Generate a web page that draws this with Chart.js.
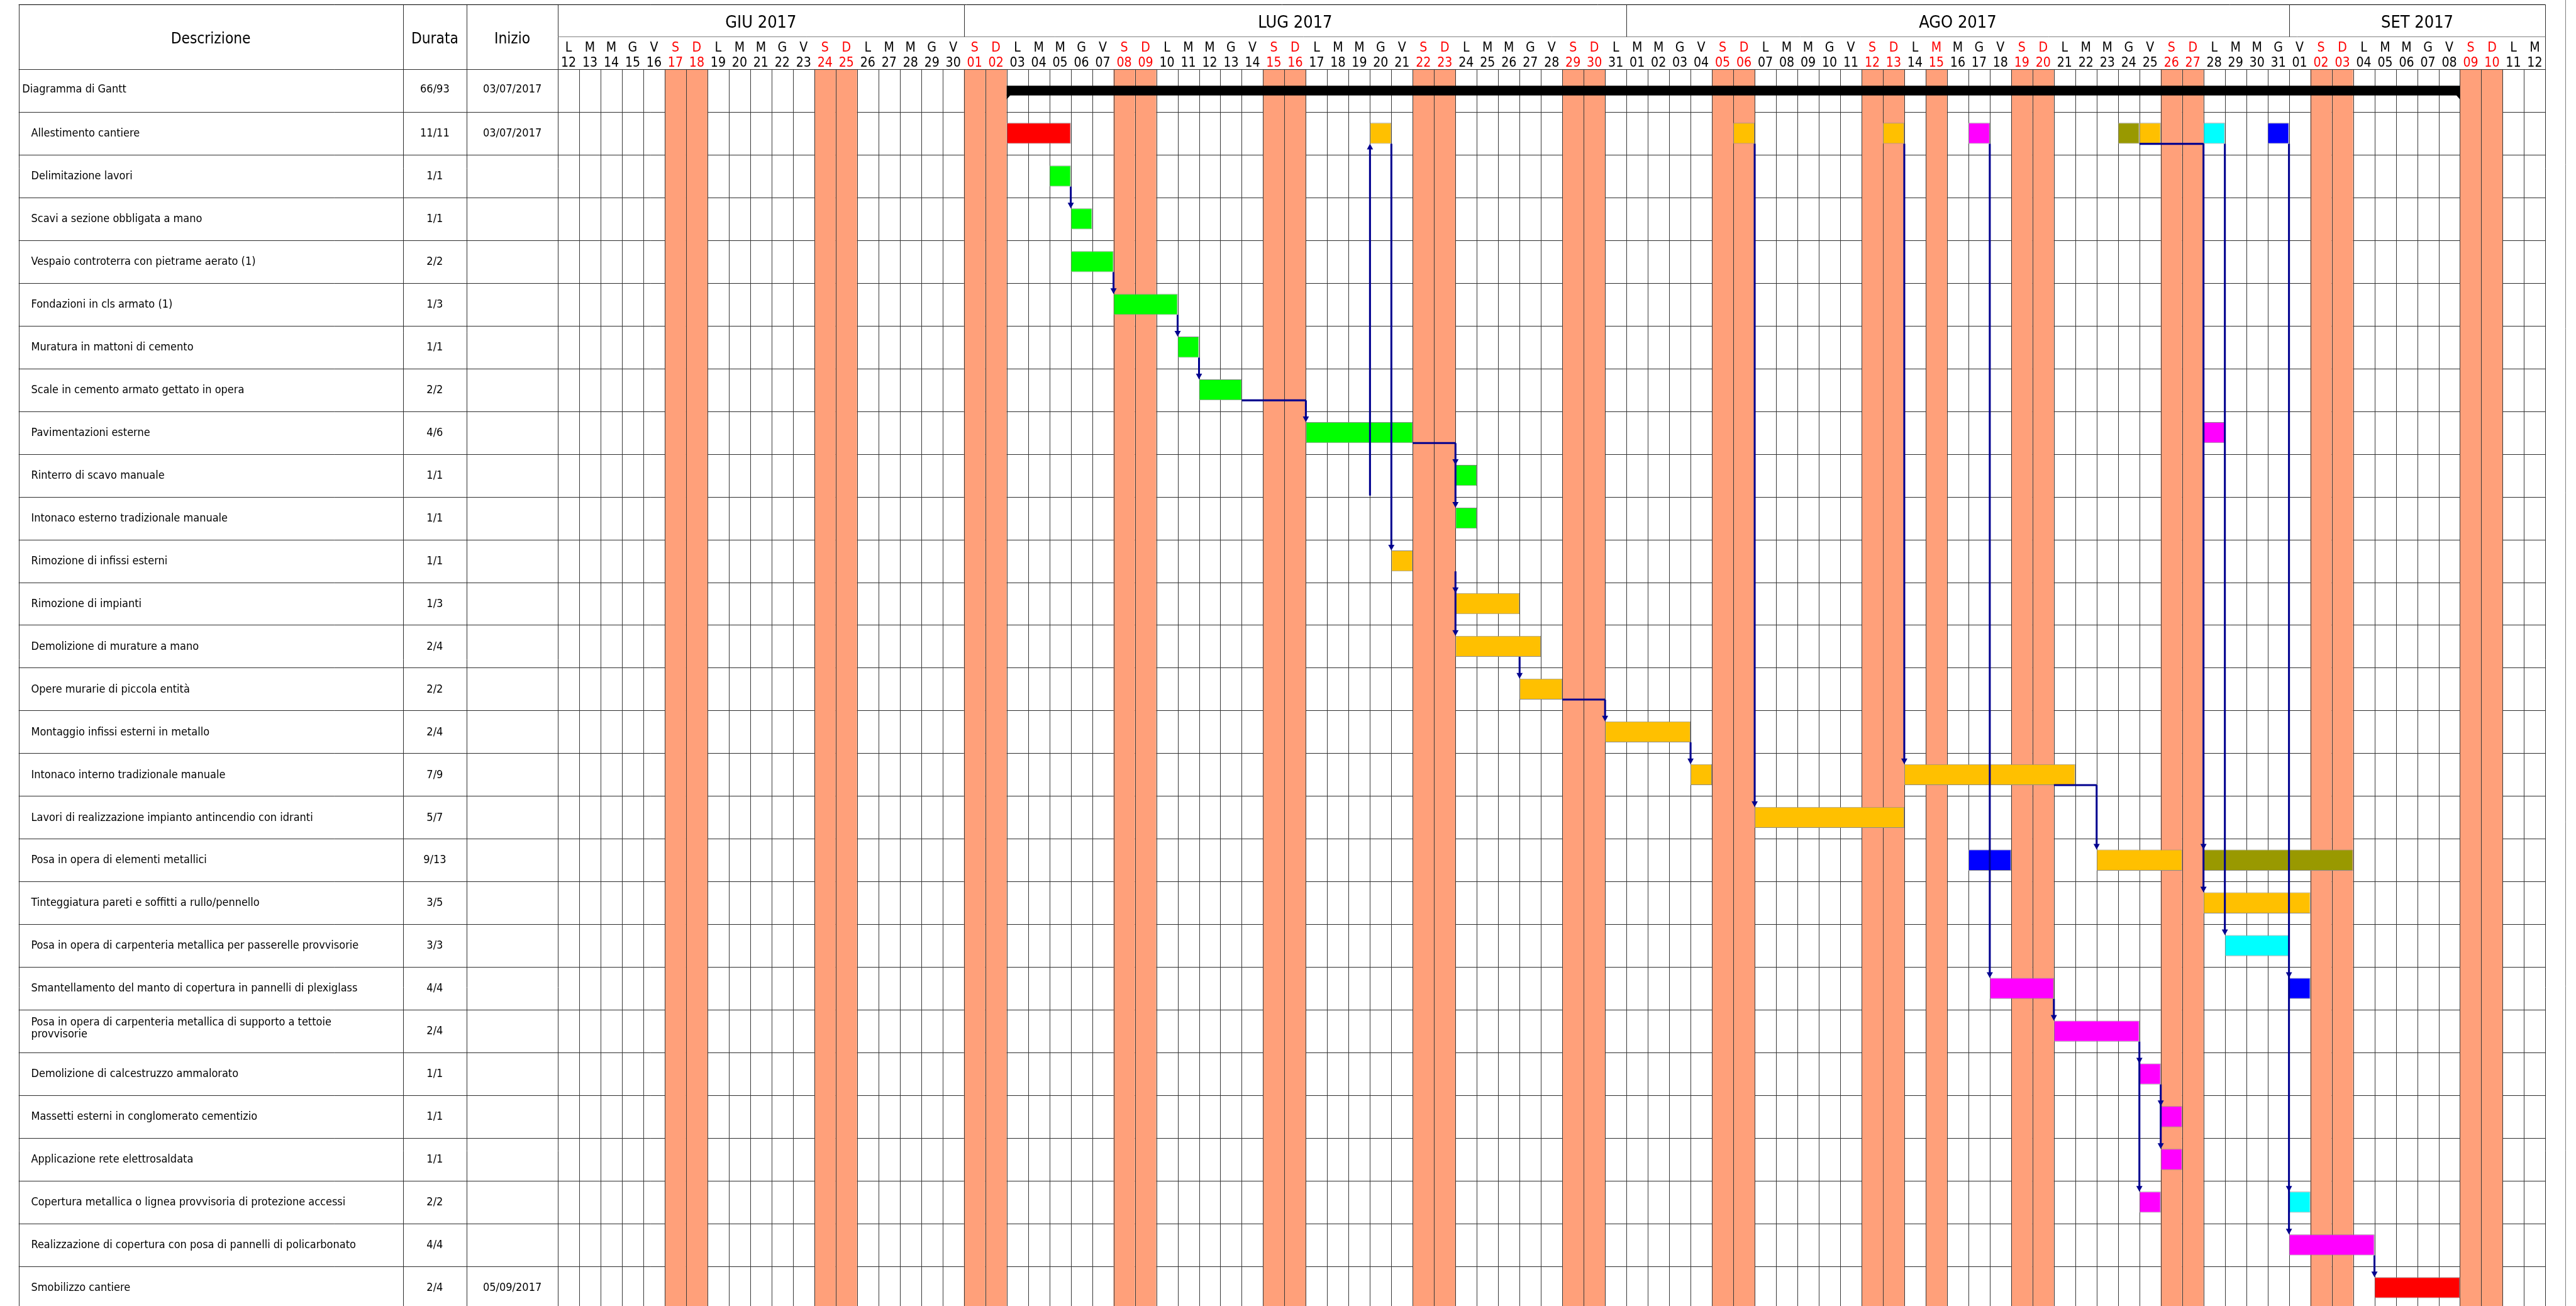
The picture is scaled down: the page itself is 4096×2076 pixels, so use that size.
<!DOCTYPE html>
<html><head><meta charset="utf-8">
<script src="https://cdn.jsdelivr.net/npm/chart.js@4.4.1/dist/chart.umd.min.js"></script>
<style>
html,body{margin:0;padding:0;background:#fff;overflow:hidden;width:4096px;height:2076px}
#wrap{position:relative;width:4096px;height:2090px}
canvas{display:block}
</style></head><body>
<div id="wrap"><canvas id="c" width="4096" height="2090"></canvas></div>
<script>
// ---------------- DATA ----------------
const tasks = [
 'Diagramma di Gantt',
 'Allestimento cantiere',
 'Delimitazione lavori',
 'Scavi a sezione obbligata a mano',
 'Vespaio controterra con pietrame aerato (1)',
 'Fondazioni in cls armato (1)',
 'Muratura in mattoni di cemento',
 'Scale in cemento armato gettato in opera',
 'Pavimentazioni esterne',
 'Rinterro di scavo manuale',
 'Intonaco esterno tradizionale manuale',
 'Rimozione di infissi esterni',
 'Rimozione di impianti',
 'Demolizione di murature a mano',
 'Opere murarie di piccola entità',
 'Montaggio infissi esterni in metallo',
 'Intonaco interno tradizionale manuale',
 'Lavori di realizzazione impianto antincendio con idranti',
 'Posa in opera di elementi metallici',
 'Tinteggiatura pareti e soffitti a rullo/pennello',
 'Posa in opera di carpenteria metallica per passerelle provvisorie',
 'Smantellamento del manto di copertura in pannelli di plexiglass',
 'Posa in opera di carpenteria metallica di supporto a tettoie\nprovvisorie',
 'Demolizione di calcestruzzo ammalorato',
 'Massetti esterni in conglomerato cementizio',
 'Applicazione rete elettrosaldata',
 'Copertura metallica o lignea provvisoria di protezione accessi',
 'Realizzazione di copertura con posa di pannelli di policarbonato',
 'Smobilizzo cantiere'
];
const durations = ['66/93','11/11','1/1','1/1','2/2','1/3','1/1','2/2','4/6','1/1','1/1','1/1','1/3','2/4','2/2','2/4','7/9','5/7','9/13','3/5','3/3','4/4','2/4','1/1','1/1','1/1','2/2','4/4','2/4'];
const startDates = ['03/07/2017','03/07/2017','','','','','','','','','','','','','','','','','','','','','','','','','','','05/09/2017'];
const columnHeaders = ['Descrizione','Durata','Inizio'];
const months = ['GIU 2017','LUG 2017','AGO 2017','SET 2017'];
const weekdayLetters = ['D','L','M','M','G','V','S'];
const firstDay = '2017-06-12';
const lastDay = '2017-09-12';
const nonWorkingDays = ['2017-06-17','2017-06-18','2017-06-24','2017-06-25','2017-07-01','2017-07-02','2017-07-08','2017-07-09','2017-07-15','2017-07-16','2017-07-22','2017-07-23','2017-07-29','2017-07-30','2017-08-05','2017-08-06','2017-08-12','2017-08-13','2017-08-15','2017-08-19','2017-08-20','2017-08-26','2017-08-27','2017-09-02','2017-09-03','2017-09-09','2017-09-10'];

// bars: [task row, first day, last day]
const summaryBars = [[0,'2017-07-03','2017-09-08']];
const redBars = [[1,'2017-07-03','2017-07-05'],[28,'2017-09-05','2017-09-08']];
const greenBars = [[2,'2017-07-05','2017-07-05'],[3,'2017-07-06','2017-07-06'],[4,'2017-07-06','2017-07-07'],[5,'2017-07-08','2017-07-10'],[6,'2017-07-11','2017-07-11'],[7,'2017-07-12','2017-07-13'],[8,'2017-07-17','2017-07-21'],[9,'2017-07-24','2017-07-24'],[10,'2017-07-24','2017-07-24']];
const orangeBars = [[1,'2017-07-20','2017-07-20'],[1,'2017-08-06','2017-08-06'],[1,'2017-08-13','2017-08-13'],[1,'2017-08-25','2017-08-25'],[11,'2017-07-21','2017-07-21'],[12,'2017-07-24','2017-07-26'],[13,'2017-07-24','2017-07-27'],[14,'2017-07-27','2017-07-28'],[15,'2017-07-31','2017-08-03'],[16,'2017-08-04','2017-08-04'],[16,'2017-08-14','2017-08-21'],[17,'2017-08-07','2017-08-13'],[18,'2017-08-23','2017-08-26'],[19,'2017-08-28','2017-09-01']];
const magentaBars = [[1,'2017-08-17','2017-08-17'],[8,'2017-08-28','2017-08-28'],[21,'2017-08-18','2017-08-20'],[22,'2017-08-21','2017-08-24'],[23,'2017-08-25','2017-08-25'],[24,'2017-08-26','2017-08-26'],[25,'2017-08-26','2017-08-26'],[26,'2017-08-25','2017-08-25'],[27,'2017-09-01','2017-09-04']];
const oliveBars = [[1,'2017-08-24','2017-08-24'],[18,'2017-08-28','2017-09-03']];
const cyanBars = [[1,'2017-08-28','2017-08-28'],[20,'2017-08-29','2017-08-31'],[26,'2017-09-01','2017-09-01']];
const blueBars = [[1,'2017-08-31','2017-08-31'],[18,'2017-08-17','2017-08-18'],[21,'2017-09-01','2017-09-01']];

// links: [from row, [to rows], arrow at day start, horizontal from day start]
const links = [
 [1,[11],'2017-07-21',null],
 [1,[17],'2017-08-07',null],
 [1,[16],'2017-08-14',null],
 [1,[21],'2017-08-18',null],
 [1,[18,19],'2017-08-28','2017-08-25'],
 [1,[20],'2017-08-29',null],
 [1,[21,26,27],'2017-09-01',null],
 [2,[3],'2017-07-06',null],
 [4,[5],'2017-07-08',null],
 [5,[6],'2017-07-11',null],
 [6,[7],'2017-07-12',null],
 [7,[8],'2017-07-17','2017-07-14'],
 [8,[9,10],'2017-07-24','2017-07-22'],
 [11,[12,13],'2017-07-24',null],
 [13,[14],'2017-07-27',null],
 [14,[15],'2017-07-31','2017-07-29'],
 [15,[16],'2017-08-04',null],
 [16,[18],'2017-08-23','2017-08-21'],
 [21,[22],'2017-08-21',null],
 [22,[23,26],'2017-08-25',null],
 [23,[24,25],'2017-08-26',null],
 [27,[28],'2017-09-05',null]
];
const upLinks = [[9,1,'2017-07-20']];

// ---------------- HELPERS ----------------
const S = 4096/4553;
const FONT = "'DejaVu Sans Condensed','DejaVu Sans',sans-serif";
const DAYMS = 86400000;
function utc(s){const [y,m,d]=s.split('-').map(Number);return Date.UTC(y,m-1,d);}
const T0 = utc(firstDay);
function dayIdx(s){return Math.round((utc(s)-T0)/DAYMS);}
const nDays = dayIdx(lastDay)+1;
const L = {left:33, top:8.3, monthBottom:65, colDur:712, colIni:825, gridLeft:986, gridRight:4499, headBottom:122.3, rowsBottom:2313, outer:4534};

function toPoints(arr){return arr.map(b=>({x:[dayIdx(b[1]),dayIdx(b[2])+1],y:tasks[b[0]]}));}
function ds(arr,color,pct,border){
  return {data:toPoints(arr),backgroundColor:color,borderColor:border?'#8a8a8a':color,borderWidth:border?1:0,borderSkipped:false,grouped:false,barPercentage:pct,categoryPercentage:1};
}

function capText(ctx,txt,x,capCenter,size,align,color){
  ctx.font=size+'px '+FONT;ctx.textAlign=align;ctx.textBaseline='alphabetic';ctx.fillStyle=color||'#000';
  ctx.fillText(txt,x,capCenter+0.3645*size);
}
function seg(ctx,x0,y0,x1,y1){ctx.beginPath();ctx.moveTo(x0,y0);ctx.lineTo(x1,y1);ctx.stroke();}
const h5=v=>Math.round(v)+0.5;

const gantt = {
  id:'gantt',
  beforeDatasetsDraw(chart){
    const ctx=chart.ctx, xs=chart.scales.x, ys=chart.scales.y;
    const n=tasks.length, rowH=(ys.bottom-ys.top)/n, H=chart.height;
    const left=L.left*S, top=L.top*S, mb=L.monthBottom*S;
    const px=d=>xs.getPixelForValue(d);
    ctx.save();
    ctx.fillStyle='#fff';ctx.fillRect(0,0,chart.width,H);
    ctx.lineWidth=1;
    // horizontal row lines
    ctx.strokeStyle='#2e2e2e';
    for(let r=1;r<=n;r++){const y=h5(ys.top+r*rowH);seg(ctx,left,y,xs.right,y);}
    // non working days
    ctx.fillStyle='#FFA07A';
    nonWorkingDays.forEach(d=>{const i=dayIdx(d);const x0=px(i),x1=px(i+1);ctx.fillRect(x0,ys.top,x1-x0,H-ys.top);});
    // vertical day lines
    ctx.strokeStyle='#383838';
    for(let d=1;d<nDays;d++){const x=h5(px(d));seg(ctx,x,ys.top,x,H);}
    // table verticals
    ctx.strokeStyle='#2e2e2e';
    [left,L.colDur*S,L.colIni*S,xs.left,xs.right].forEach(x=>{seg(ctx,h5(x),top,h5(x),H);});
    ctx.strokeStyle='#808080';
    seg(ctx,h5(L.outer*S),0,h5(L.outer*S),H);
    // header lines
    ctx.strokeStyle='#000';
    seg(ctx,left,h5(top),xs.right,h5(top));
    ctx.strokeStyle='#808080';
    seg(ctx,xs.left,h5(mb),xs.right,h5(mb));
    ctx.strokeStyle='#2e2e2e';
    seg(ctx,left,h5(ys.top),xs.right,h5(ys.top));
    // month separators + labels
    const mStarts=[];
    for(let d=0;d<nDays;d++){const dt=new Date(T0+d*DAYMS);if(d===0||dt.getUTCDate()===1)mStarts.push(d);}
    mStarts.push(nDays);
    ctx.strokeStyle='#2e2e2e';
    for(let m=0;m<months.length;m++){
      const a=mStarts[m],b=mStarts[m+1];
      if(m>0){const x=h5(px(a));seg(ctx,x,top,x,mb);}
      capText(ctx,months[m],(px(a)+px(b))/2,37.5*S,30*S,'center','#000');
    }
    // day letters & numbers
    const nw=new Set(nonWorkingDays.map(dayIdx));
    for(let d=0;d<nDays;d++){
      const dt=new Date(T0+d*DAYMS);const cx=(px(d)+px(d+1))/2;const col=nw.has(d)?'#FF0000':'#000';
      capText(ctx,weekdayLetters[dt.getUTCDay()],cx,82.5*S,23.5*S,'center',col);
      capText(ctx,String(dt.getUTCDate()).padStart(2,'0'),cx,109*S,23.5*S,'center',col);
    }
    // column headers
    const hc=66.5*S;
    capText(ctx,columnHeaders[0],(L.left+L.colDur)/2*S,hc,27*S,'center');
    capText(ctx,columnHeaders[1],(L.colDur+L.colIni)/2*S,hc,27*S,'center');
    capText(ctx,columnHeaders[2],(L.colIni*S+xs.left)/2,hc,27*S,'center');
    // rows text
    const fs=20*S;
    for(let r=0;r<n;r++){
      const cy=ys.getPixelForValue(r);
      const off=(r===0?-3.5:-1.5)*S;
      const lines=tasks[r].split('\n');
      const tx=(r===0?39.3:55)*S;
      if(lines.length===1) capText(ctx,lines[0],tx,cy+off,fs,'left');
      else{capText(ctx,lines[0],tx,cy-17.3*S,fs,'left');capText(ctx,lines[1],tx,cy+4.2*S,fs,'left');}
      capText(ctx,durations[r],(L.colDur+L.colIni)/2*S,cy+off,fs,'center');
      if(startDates[r])capText(ctx,startDates[r],(L.colIni*S+xs.left)/2,cy+off,fs,'center');
    }
    ctx.restore();
  },
  afterDatasetsDraw(chart){
    const ctx=chart.ctx, xs=chart.scales.x, ys=chart.scales.y;
    const n=tasks.length, rowH=(ys.bottom-ys.top)/n;
    const px=d=>xs.getPixelForValue(d);
    const half=rowH*0.49/2;
    ctx.save();
    // summary bar end tabs
    const meta=chart.getDatasetMeta(0);
    ctx.fillStyle='#000';
    meta.data.forEach(el=>{
      const p=el.getProps(['x','y','base','height'],true);
      const l=Math.min(p.x,p.base), r=Math.max(p.x,p.base), b=p.y+p.height/2, t=7*S;
      ctx.beginPath();ctx.moveTo(l,b-1);ctx.lineTo(l,b+t);ctx.lineTo(l+t,b-1);ctx.closePath();ctx.fill();
      ctx.beginPath();ctx.moveTo(r,b-1);ctx.lineTo(r,b+t);ctx.lineTo(r-t,b-1);ctx.closePath();ctx.fill();
    });
    const NAVY='#00008F';
    ctx.strokeStyle=NAVY;ctx.fillStyle=NAVY;ctx.lineWidth=3.4*S;ctx.lineCap='butt';
    const aw=5.5*S, ah=10*S;
    function arrowDown(x,y){ctx.beginPath();ctx.moveTo(x,y);ctx.lineTo(x-aw,y-ah);ctx.lineTo(x+aw,y-ah);ctx.closePath();ctx.fill();}
    function arrowUp(x,y){ctx.beginPath();ctx.moveTo(x,y);ctx.lineTo(x-aw,y+ah);ctx.lineTo(x+aw,y+ah);ctx.closePath();ctx.fill();}
    links.forEach(([from,to,at,via])=>{
      const x=px(dayIdx(at));const y0=ys.getPixelForValue(from)+half;
      if(via){seg(ctx,px(dayIdx(via)),y0,x,y0);}
      const last=Math.max(...to);const y1=ys.getPixelForValue(last)-half;
      seg(ctx,x,y0,x,y1-ah+1);
      to.forEach(t=>arrowDown(x,ys.getPixelForValue(t)-half));
    });
    upLinks.forEach(([from,to,at])=>{
      const x=px(dayIdx(at));const y0=ys.getPixelForValue(from)+rowH/2-2*S;const y1=ys.getPixelForValue(to)+half;
      seg(ctx,x,y0,x,y1+ah-1);arrowUp(x,y1);
    });
    ctx.restore();
  }
};

const W=4096, HC=2090;
new Chart(document.getElementById('c'),{
  type:'bar',
  data:{labels:tasks,datasets:[
    ds(summaryBars,'#000000',0.225,false),
    ds(redBars,'#FF0000',0.49,true),
    ds(greenBars,'#00FF00',0.49,true),
    ds(orangeBars,'#FFC000',0.49,true),
    ds(magentaBars,'#FF00FF',0.49,true),
    ds(oliveBars,'#999900',0.49,true),
    ds(cyanBars,'#00FFFF',0.49,true),
    ds(blueBars,'#0000FF',0.49,true)
  ]},
  options:{
    indexAxis:'y',responsive:false,animation:false,devicePixelRatio:1,events:[],
    layout:{padding:{left:L.gridLeft*S,right:W-L.gridRight*S,top:L.headBottom*S,bottom:HC-L.rowsBottom*S}},
    scales:{
      x:{type:'linear',min:0,max:nDays,display:false},
      y:{type:'category',offset:true,display:false}
    },
    plugins:{legend:{display:false},tooltip:{enabled:false}}
  },
  plugins:[gantt]
});
</script>
</body></html>
